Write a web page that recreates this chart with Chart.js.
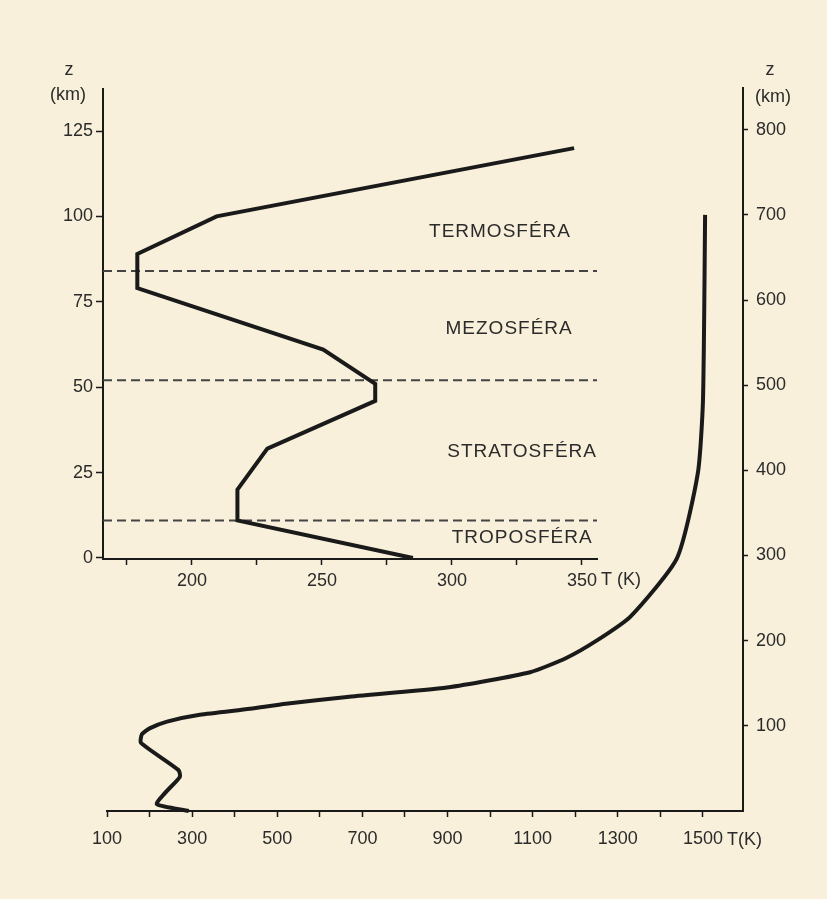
<!DOCTYPE html>
<html>
<head>
<meta charset="utf-8">
<script src="https://cdn.jsdelivr.net/npm/chart.js@4.4.1/dist/chart.umd.min.js"></script>
<style>
  html, body { margin: 0; padding: 0; background: #f8f0da; }
  #wrap { position: relative; width: 827px; height: 899px; }
  #wrap canvas { position: absolute; left: 0; top: 0; }
</style>
</head>
<body>
<div id="wrap">
  <canvas id="outer" width="827" height="899"></canvas>
  <canvas id="inner" width="827" height="899"></canvas>
</div>
<script>
// lower atmosphere (small plot), T in K, z in km
const innerTemp = [285, 217.5, 217.5, 229, 270.5, 270.5, 250.5, 179, 179, 209.5, 347];
const innerAlt  = [0, 11, 20, 32, 46, 51, 61, 79, 89, 100, 120];

// whole profile up to 700 km (big plot)
const outerTemp = [292, 217, 236, 271, 268, 180, 182, 200, 241, 318, 436, 520, 664, 899, 1094, 1180, 1250, 1329, 1439, 1488, 1500, 1505];
const outerAlt  = [0, 8, 21, 40, 48, 80, 90, 97, 105, 113, 120, 126, 134, 145, 163, 180, 200, 228, 297, 397, 483, 700];

// layer boundaries (dashed lines), km
const boundaryAlt = [11, 52, 84];
const layerNames = ["TROPOSFÉRA", "STRATOSFÉRA", "MEZOSFÉRA", "TERMOSFÉRA"];

// ticks
const innerTTicks = [175, 200, 225, 250, 275, 300, 325, 350];
const innerZTicks = [0, 25, 50, 75, 100, 125];
const outerTTicks = [100, 200, 300, 400, 500, 600, 700, 800, 900, 1000, 1100, 1200, 1300, 1400, 1500];
const outerZTicks = [100, 200, 300, 400, 500, 600, 700, 800];

// axis ranges
const innerTRange = [165.8, 355.8];
const innerZRange = [-0.3, 137.3];
const outerTRange = [100, 1594];
const outerZRange = [0, 849];

const INK = "#1a1a1a";
const TXT = "#2b2b2b";
const FONT = "'Liberation Sans', Arial, sans-serif";
Chart.defaults.font.family = FONT;
Chart.defaults.font.size = 18;
Chart.defaults.color = TXT;

const toPts = (xs, ys) => xs.map((x, i) => ({ x: x, y: ys[i] }));
const fixTicks = list => s => { s.ticks = list.map(v => ({ value: v })); };

function drawText(ctx, str, x, y, align) {
  ctx.textAlign = align || "center";
  ctx.fillText(str, x, y);
}

// ---------- outer chart ----------
const outerLabels = {
  id: "outerLabels",
  afterDraw(chart) {
    const ctx = chart.ctx;
    ctx.save();
    ctx.fillStyle = TXT;
    ctx.textBaseline = "middle";
    ctx.font = "18px " + FONT;
    drawText(ctx, "z", 770, 70);
    drawText(ctx, "(km)", 773, 97);
    drawText(ctx, "T(K)", 727, 840, "left");
    ctx.restore();
  }
};

new Chart(document.getElementById("outer"), {
  type: "scatter",
  data: {
    datasets: [{
      data: toPts(outerTemp, outerAlt),
      showLine: true,
      borderColor: INK,
      borderWidth: 4,
      pointRadius: 0,
      tension: 0.2,
      clip: false
    }]
  },
  options: {
    responsive: false,
    animation: false,
    layout: { padding: { left: 107, top: 88, right: 0, bottom: 0 } },
    plugins: { legend: { display: false }, tooltip: { enabled: false } },
    scales: {
      x: {
        type: "linear",
        position: "bottom",
        min: outerTRange[0],
        max: outerTRange[1],
        afterFit: s => { s.height = 88; },
        afterBuildTicks: fixTicks(outerTTicks),
        border: { color: INK, width: 2 },
        grid: { drawOnChartArea: false, tickLength: 6, tickColor: INK, tickWidth: 1.5 },
        ticks: {
          maxRotation: 0,
          autoSkip: false,
          padding: 11,
          callback: v => ((v - 100) % 200 === 0 ? String(v) : "")
        }
      },
      y: {
        type: "linear",
        position: "right",
        min: outerZRange[0],
        max: outerZRange[1],
        afterFit: s => { s.width = 84; },
        afterBuildTicks: fixTicks(outerZTicks),
        border: { color: INK, width: 2 },
        grid: { drawOnChartArea: false, tickLength: 5, tickColor: INK, tickWidth: 1.5 },
        ticks: { padding: 8, autoSkip: false }
      }
    }
  },
  plugins: [outerLabels]
});

// ---------- inner chart ----------
const innerLabels = {
  id: "innerLabels",
  afterDraw(chart) {
    const ctx = chart.ctx;
    const xs = chart.scales.x, ys = chart.scales.y;
    const spots = [[327, 6], [327, 31], [322, 67], [318.5, 95.4]];
    ctx.save();
    ctx.fillStyle = TXT;
    ctx.textBaseline = "middle";
    ctx.font = "19px " + FONT;
    ctx.letterSpacing = "1px";
    layerNames.forEach((name, i) => {
      drawText(ctx, name, xs.getPixelForValue(spots[i][0]), ys.getPixelForValue(spots[i][1]));
    });
    ctx.letterSpacing = "0px";
    ctx.font = "18px " + FONT;
    drawText(ctx, "z", 69, 70);
    drawText(ctx, "(km)", 68, 95);
    drawText(ctx, "T (K)", 601, 580, "left");
    ctx.restore();
  }
};

const dashed = boundaryAlt.map(z => ({
  data: [{ x: innerTRange[0], y: z }, { x: innerTRange[1], y: z }],
  showLine: true,
  borderColor: "#444",
  borderWidth: 2,
  borderDash: [9, 5],
  pointRadius: 0
}));

new Chart(document.getElementById("inner"), {
  type: "scatter",
  data: {
    datasets: [{
      data: toPts(innerTemp, innerAlt),
      showLine: true,
      borderColor: INK,
      borderWidth: 4,
      pointRadius: 0,
      tension: 0,
      borderJoinStyle: "miter",
      clip: false
    }].concat(dashed)
  },
  options: {
    responsive: false,
    animation: false,
    layout: { padding: { left: 0, top: 89, right: 230, bottom: 0 } },
    plugins: { legend: { display: false }, tooltip: { enabled: false } },
    scales: {
      x: {
        type: "linear",
        position: "bottom",
        min: innerTRange[0],
        max: innerTRange[1],
        afterFit: s => { s.height = 340; },
        afterBuildTicks: fixTicks(innerTTicks),
        border: { color: INK, width: 2 },
        grid: { drawOnChartArea: false, tickLength: 6, tickColor: INK, tickWidth: 1.5 },
        ticks: {
          maxRotation: 0,
          autoSkip: false,
          padding: 5,
          callback: v => (v % 50 === 0 ? String(v) : "")
        }
      },
      y: {
        type: "linear",
        position: "left",
        min: innerZRange[0],
        max: innerZRange[1],
        afterFit: s => { s.width = 103; },
        afterBuildTicks: fixTicks(innerZTicks),
        border: { color: INK, width: 2 },
        grid: { drawOnChartArea: false, tickLength: 7, tickColor: INK, tickWidth: 1.5 },
        ticks: { padding: 3, autoSkip: false }
      }
    }
  },
  plugins: [innerLabels]
});
</script>
</body>
</html>
